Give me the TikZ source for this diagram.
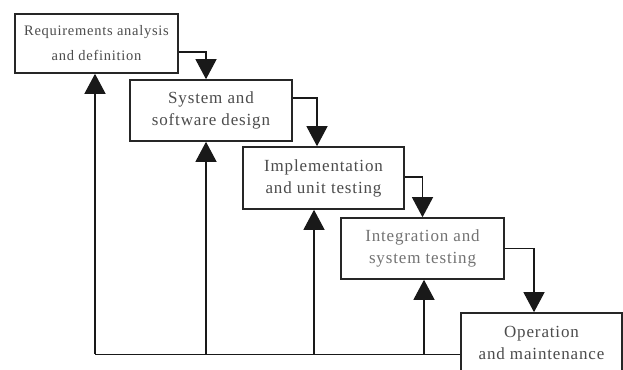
\documentclass[tikz,border=0pt]{standalone}
\usepackage{fontspec}
\setmainfont{Liberation Serif}
\newfontfamily\phasefont[LetterSpace=5]{Liberation Serif}
\usetikzlibrary{arrows.meta}
\begin{document}
\begin{tikzpicture}[x=1pt,y=-1pt,
  phase/.style={draw=black!85, line width=1.6pt, fill=white, inner sep=0pt,
    align=center, text=black!70, font=\phasefont\fontsize{17}{22}\selectfont},
  flow/.style={line width=1.3pt, draw=black!90, -{Triangle[width=21pt,length=20pt]}},
  back/.style={line width=1.2pt, draw=black!90}]
\useasboundingbox (0,0) rectangle (623,369);
\node[phase, minimum width=163pt, minimum height=59pt, font=\phasefont\fontsize{14.5}{25}\selectfont] (b1) at (96.5,43.5) {Requirements analysis\\and definition};
\node[phase, minimum width=162pt, minimum height=61pt] (b2) at (211,110.5) {System and\\software design};
\node[phase, minimum width=161pt, minimum height=62pt] (b3) at (323.5,178) {Implementation\\and unit testing};
\node[phase, minimum width=163pt, minimum height=61pt, text=black!55] (b4) at (422.5,248.5) {Integration and\\system testing};
\node[phase, minimum width=161pt, minimum height=60pt] (b5) at (541.5,343) {Operation\\and maintenance};
% forward flow
\draw[flow] ([yshift=-8.5pt]b1.east) -| ([xshift=-5pt]b2.north);
\draw[flow] ([yshift=12.5pt]b2.east) -| ([xshift=-6.5pt]b3.north);
\draw[flow] ([yshift=1pt]b3.east) -| (b4.north);
\draw[flow] (b4.east) -| ([xshift=-7.5pt]b5.north);
% feedback
\coordinate (c1) at (95,354);
\coordinate (c2) at (206,354);
\coordinate (c3) at (314,354);
\coordinate (c4) at (424,354);
\draw[back, line width=1pt] (b5.west |- c1) -- (c1);
\draw[back, flow] (c1) -- (b1.south -| c1);
\draw[back, flow] (c2) -- (b2.south -| c2);
\draw[back, flow] (c3) -- (b3.south -| c3);
\draw[back, flow] (c4) -- (b4.south -| c4);
\end{tikzpicture}
\end{document}
